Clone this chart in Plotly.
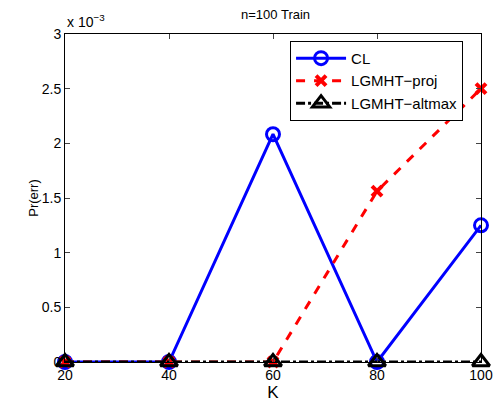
import plotly.graph_objects as go

K = [20, 40, 60, 80, 100]
cl = [0, 0, 2.0833e-3, 0, 1.25e-3]
proj = [0, 0, 0, 1.5625e-3, 2.5e-3]
altmax = [0, 0, 0, 0, 0]
scale = 1e-3
yticks = [0, 0.5, 1, 1.5, 2, 2.5, 3]

font = dict(family="Liberation Sans, Arial, sans-serif", size=14, color="black")

fig = go.Figure()
fig.add_trace(go.Scatter(x=K, y=[v / scale for v in cl], name="CL", mode="lines+markers", cliponaxis=False,
                         line=dict(color="blue", width=3),
                         marker=dict(symbol="circle-open", size=13, color="blue", line=dict(width=3))))
fig.add_trace(go.Scatter(x=K, y=[v / scale for v in proj], name="LGMHT\u2212proj", mode="lines+markers", cliponaxis=False,
                         line=dict(color="red", width=3, dash="dash"),
                         marker=dict(symbol="x-thin-open", size=10, color="red", line=dict(width=4, color="red"))))
fig.add_trace(go.Scatter(x=K, y=[v / scale for v in altmax], name="LGMHT\u2212altmax", mode="lines+markers", cliponaxis=False,
                         line=dict(color="black", width=3, dash="dashdot"),
                         marker=dict(symbol="triangle-up-open", size=15, color="black", line=dict(width=3))))

fig.update_layout(
    width=501, height=404,
    margin=dict(l=65, r=20, t=34, b=42, autoexpand=False),
    paper_bgcolor="white", plot_bgcolor="white",
    font=font,
    title=dict(text="n=100 Train", x=0.55, xanchor="center", y=0.975, yanchor="top", font=dict(size=13)),
    showlegend=True,
    legend=dict(x=0.541, y=0.979, xanchor="left", yanchor="top", bgcolor="white",
                bordercolor="black", borderwidth=1, itemwidth=50, font=dict(size=15),
                tracegroupgap=0),
    xaxis=dict(range=[20, 100], tickvals=K, ticks="inside", ticklen=5, showgrid=False, zeroline=False,
               showline=True, linecolor="black", linewidth=1, mirror="ticks", automargin=False,
               title=dict(text="K", standoff=4), tickfont=font),
    yaxis=dict(range=[0, 3], tickvals=yticks, ticktext=["0", "0.5", "1", "1.5", "2", "2.5", "3"],
               ticks="inside", ticklen=5, showgrid=False, zeroline=False, automargin=False,
               showline=True, linecolor="black", linewidth=1, mirror="ticks",
               title=dict(text="Pr(err)", standoff=0, font=dict(size=13)), tickfont=font),
    annotations=[dict(text="x 10<sup>\u22123</sup>", xref="paper", yref="paper", x=0.0, y=1.0,
                      xanchor="left", yanchor="bottom", showarrow=False, font=dict(size=14), yshift=2)],
)

fig.write_html("out.html")
